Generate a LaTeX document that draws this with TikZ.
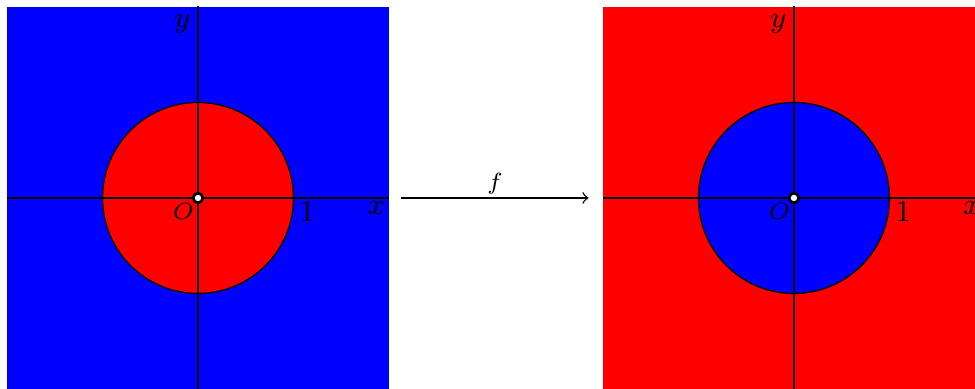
\documentclass[tikz,border=0pt]{standalone}
\begin{document}
\begin{tikzpicture}[x=1cm,y=1cm]
\clip (-2.073,-2.0) rectangle (8.136,2.073);
% left plane
\fill[blue] (-2,-2) rectangle (2,2);
\filldraw[fill=red,draw=black] (0,0) circle (1);
\draw (-2,0) -- (2,0);
\draw (0,-2) -- (0,2.01);
\filldraw[fill=white,draw=black,thick] (0,0) circle (0.05);
\node[anchor=north east,font=\scriptsize,inner sep=1pt] (oL) at (0,-0.02) {$O$};
\node[anchor=north west,font=\small,inner sep=1pt] (oneL) at (1.02,0) {$1$};
\node[anchor=north east,font=\small,inner sep=1pt] (xL) at (2,0) {$x$};
\node[anchor=north east,font=\small,inner sep=2pt] (yL) at (0,2) {$y$};
% map
\coordinate (a) at (2.13,0);
\coordinate (b) at (4.09,0);
\draw[->] (a) -- node[above,font=\scriptsize,inner sep=1pt] (fL) {$f$} (b);
% right plane
\fill[red] (4.24,-2) rectangle (8.24,2);
\filldraw[fill=blue,draw=black] (6.24,0) circle (1);
\draw (4.24,0) -- (8.24,0);
\draw (6.24,-2) -- (6.24,2.01);
\filldraw[fill=white,draw=black,thick] (6.24,0) circle (0.05);
\node[anchor=north east,font=\scriptsize,inner sep=1pt] (oR) at (6.24,-0.02) {$O$};
\node[anchor=north west,font=\small,inner sep=1pt] (oneR) at (7.26,0) {$1$};
\node[anchor=north east,font=\small,inner sep=1pt] (xR) at (8.24,0) {$x$};
\node[anchor=north east,font=\small,inner sep=2pt] (yR) at (6.24,2) {$y$};
\end{tikzpicture}
\end{document}
